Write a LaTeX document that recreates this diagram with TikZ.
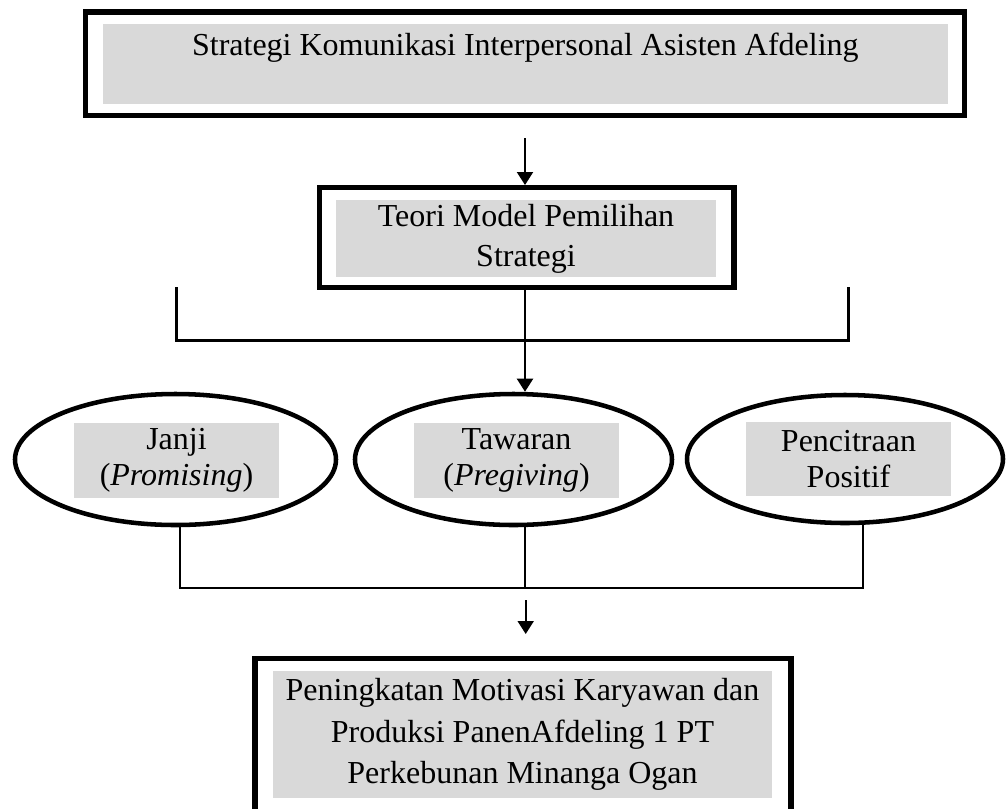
\documentclass[tikz,border=0pt]{standalone}
\usepackage{fontspec}
\setmainfont{Liberation Serif}
\usetikzlibrary{arrows.meta,shapes.geometric}
\definecolor{boxgray}{HTML}{D9D9D9}
\begin{document}
\begin{tikzpicture}[x=0.75pt,y=-0.75pt,
  frame/.style={draw=black, line width=4pt, rectangle, inner sep=0pt, outer sep=2pt},
  graybox/.style={fill=boxgray, inner sep=0pt, outer sep=0pt, align=center,
    font=\fontsize{24}{30}\selectfont},
  oval/.style={draw=black, line width=3.4pt, ellipse, inner sep=0pt, outer sep=1.7pt},
  conn/.style={draw=black, line width=1.5pt},
  arr/.style={conn, -{Triangle[length=9.75pt,width=12pt]}}
  ]
\useasboundingbox (0,0) rectangle (1007,808);
\begin{scope}
\clip (0,0) rectangle (1007,808);
% top box
\node[frame, minimum width=659.2pt, minimum height=77.7pt] (topframe) at (524.85,63.8) {};
\node[graybox, minimum width=634pt, text height=23.25pt, text depth=36.5pt]
  (top) at (525.35,63.85)
  {Strategi Komunikasi Interpersonal Asisten Afdeling};
% second box
\node[frame, minimum width=311pt, minimum height=74.7pt] (b2frame) at (526.7,237.5) {};
\node[graybox, minimum width=285pt, minimum height=57.75pt] (b2) at (526,238.5)
  {Teori Model Pemilihan\\Strategi};
% ellipses
\node[oval, minimum width=240.75pt, minimum height=98.25pt] (e1) at (175.5,459.5) {};
\node[oval, minimum width=237.75pt, minimum height=98.25pt] (e2) at (513.5,459.5) {};
\node[oval, minimum width=237pt, minimum height=96pt] (e3) at (845,459) {};
\node[graybox, minimum width=153.75pt, minimum height=56.25pt,
  font=\fontsize{24}{27}\selectfont] (t1) at (176.5,460.5) {Janji\\(\textit{Promising})};
\node[graybox, minimum width=153.75pt, minimum height=56.25pt,
  font=\fontsize{24}{27}\selectfont] (t2) at (516.5,460.5) {Tawaran\\(\textit{Pregiving})};
\node[graybox, minimum width=153.75pt, minimum height=55.5pt,
  font=\fontsize{24}{27}\selectfont] (t3) at (848.5,459) {Pencitraan\\Positif};
% bottom box
\node[frame, minimum width=401.8pt, minimum height=136pt] (bframe) at (523,749.35) {};
\node[graybox, minimum width=374.25pt, minimum height=95.25pt,
  font=\fontsize{24}{31}\selectfont] (bt) at (522.5,734.5)
  {Peningkatan Motivasi Karyawan dan\\Produksi PanenAfdeling 1 PT\\Perkebunan Minanga Ogan};
% connectors
\coordinate (a1s) at (525,138);
\draw[arr] (a1s) -- (a1s |- b2frame.north);
\coordinate (mx) at (525,300);
\draw[arr] (mx |- b2frame.south) -- (mx |- e2.north);
\coordinate (ubl) at (176.7,287);
\coordinate (ubr) at (848.6,287);
\draw[conn, line width=2pt] (ubl) -- ++(0,53.7) -| (ubr);
\coordinate (lbar) at (500,588);
\coordinate (l1) at ([xshift=3.4pt]e1.south);
\coordinate (l2) at ([xshift=8.6pt]e2.south);
\coordinate (l3) at ([xshift=13.3pt]e3.south);
\draw[conn] (l1) -- (l1 |- lbar) -- (l3 |- lbar) -- (l3);
\draw[conn] (l2) -- (l2 |- lbar);
\coordinate (a3s) at (525.7,600);
\coordinate (a3e) at (525.7,634);
\draw[arr] (a3s) -- (a3e);
\end{scope}
\end{tikzpicture}
\end{document}
